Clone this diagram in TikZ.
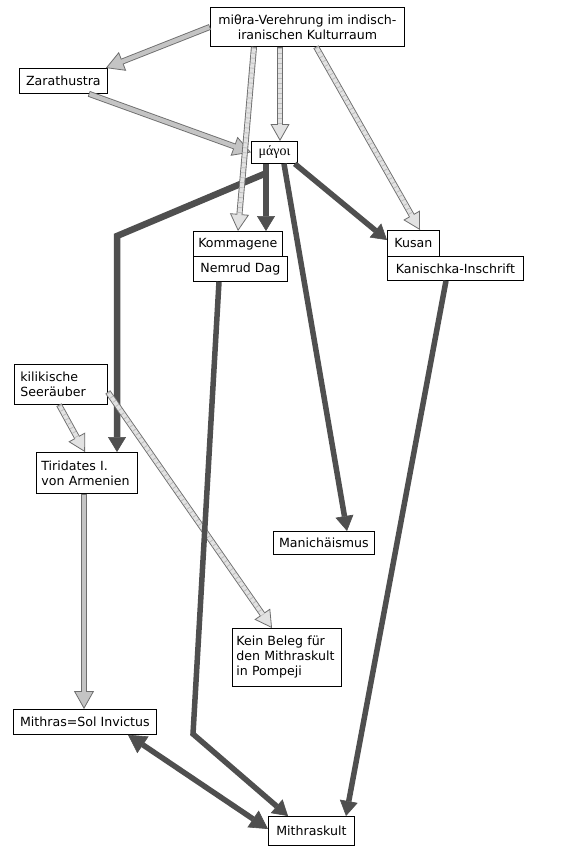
\documentclass[tikz,border=0pt]{standalone}
\usepackage{fontspec}
\setmainfont{DejaVu Sans}
\newfontfamily\greekfont{Liberation Serif}
\usetikzlibrary{arrows.meta}
\definecolor{darkfill}{HTML}{4F4F4F}
\definecolor{lightfill}{HTML}{C4C4C4}
\definecolor{lightedge}{HTML}{6E6E6E}
\definecolor{hatchfill}{HTML}{E2E2E2}
\definecolor{hatchline}{HTML}{BDBDBD}
\tikzset{
 box/.style={draw=black, line width=0.8pt, fill=white, inner sep=0pt, anchor=north west, font=\fontsize{12.6}{15}\selectfont},
 darkarrow/.style={draw=darkfill, line width=5.5pt, -{Triangle[length=15pt,width=18pt,line width=0.6pt,fill=darkfill]}},
 darkdouble/.style={draw=darkfill, line width=5.5pt, {Triangle[length=18pt,width=20pt,line width=0.6pt,fill=darkfill]}-{Triangle[length=18pt,width=20pt,line width=0.6pt,fill=darkfill]}},
 lightout/.style={draw=lightedge, line width=6pt, -{Triangle[length=18pt,width=20pt,line width=0.8pt,fill=lightfill]}},
 lightin/.style={draw=lightfill, line width=4.2pt, shorten >=16.5pt, shorten <=0.8pt},
 hatchout/.style={draw=lightedge, line width=6pt, -{Triangle[length=17pt,width=19pt,line width=0.8pt,fill=hatchfill]}},
 hatchin/.style={draw=hatchfill, line width=4.2pt, shorten >=15.5pt, shorten <=0.8pt},
 hatchstripe/.style={draw=hatchline, line width=4.2pt, dash pattern=on 0.8pt off 4.2pt, shorten >=16pt, shorten <=1pt},
}
\newcommand\fatarr[2]{\draw[#1out] #2; \draw[#1in] #2;}
\newcommand\hatcharr[1]{\draw[hatchout] #1; \draw[hatchin] #1; \draw[hatchstripe] #1;}
\begin{document}
\begin{tikzpicture}[x=1pt, y=-1pt]
\useasboundingbox[fill=white] (0,0) rectangle (569,849);
% nodes
\node[box, minimum width=194pt, minimum height=39pt, align=center] (top) at (210,7) {miθra-Verehrung im indisch-\\iranischen Kulturraum};
\node[box, minimum width=88pt, minimum height=25pt] (zar) at (19,68) {Zarathustra};
\node[box, minimum width=46pt, minimum height=22pt, font=\greekfont\fontsize{14}{16}\selectfont] (mag) at (251,141) {μάγοι};
\node[box, minimum width=89pt, minimum height=25pt] (kom) at (193,231) {Kommagene};
\node[box, minimum width=94pt, minimum height=25pt] (nem) at (193,256) {Nemrud Dag};
\node[box, minimum width=52pt, minimum height=26pt] (kus) at (387,230) {Kusan};
\node[box, minimum width=136pt, minimum height=24pt] (kan) at (387,256) {Kanischka-Inschrift};
\node[box, minimum width=93pt, minimum height=40pt, text width=81pt, inner xsep=6pt, align=left] (kil) at (14,364) {kilikische\\Seeräuber};
\node[box, minimum width=101pt, minimum height=41pt, text width=91pt, inner xsep=5pt, align=left] (tir) at (36,452) {Tiridates I.\\von Armenien};
\node[box, minimum width=101pt, minimum height=23pt] (man) at (273,531) {Manichäismus};
\node[box, minimum width=109pt, minimum height=58pt, text width=101pt, inner xsep=4pt, align=left] (kein) at (232,628) {Kein Beleg für\\den Mithraskult\\in Pompeji};
\node[box, minimum width=143pt, minimum height=25pt] (sol) at (13,709) {Mithras=Sol Invictus};
\node[box, minimum width=86pt, minimum height=29pt] (mk) at (268,816) {Mithraskult};
\coordinate (b1) at (117,236);
\coordinate (b2) at (193,734);
% dark connectors
\draw[darkarrow] ([xshift=15pt]mag.south west) -- ([xshift=73pt]kom.north west);
\draw[darkarrow, line width=6.5pt] ([xshift=16pt,yshift=-9pt]mag.south west) -- (b1) -- ([xshift=81pt]tir.north west);
\draw[darkarrow] ([xshift=33pt]mag.south west) -- ([xshift=74pt]man.north west);
\draw[darkarrow] ([xshift=-3pt]mag.south east) -- ([yshift=-10pt]kus.north west);
\draw[darkarrow] ([xshift=59pt]kan.south west) -- ([xshift=78pt]mk.north west);
\draw[darkdouble] ([xshift=115pt]sol.south west) -- ([yshift=-13pt]mk.north west);
% light connectors
\fatarr{light}{(top.west) -- ([xshift=-2pt]zar.north east)}
\fatarr{light}{([xshift=-19pt]zar.south east) -- (mag.west)}
\fatarr{light}{([xshift=48pt]tir.south west) -- ([xshift=71pt]sol.north west)}
% hatched connectors
\hatcharr{([xshift=44pt]top.south west) -- ([xshift=45pt]kom.north west)}
\hatcharr{([xshift=70pt]top.south west) -- ([xshift=29pt]mag.north west)}
\hatcharr{([xshift=106pt]top.south west) -- ([xshift=33pt]kus.north west)}
\hatcharr{([xshift=45pt]kil.south west) -- ([xshift=49pt]tir.north west)}
\hatcharr{([yshift=-28pt]kil.north east) -- ([xshift=40pt]kein.north west)}
% dark connector on top
\draw[darkarrow] ([xshift=26pt]nem.south west) -- (b2) -- ([xshift=20pt]mk.north west);
\end{tikzpicture}
\end{document}
